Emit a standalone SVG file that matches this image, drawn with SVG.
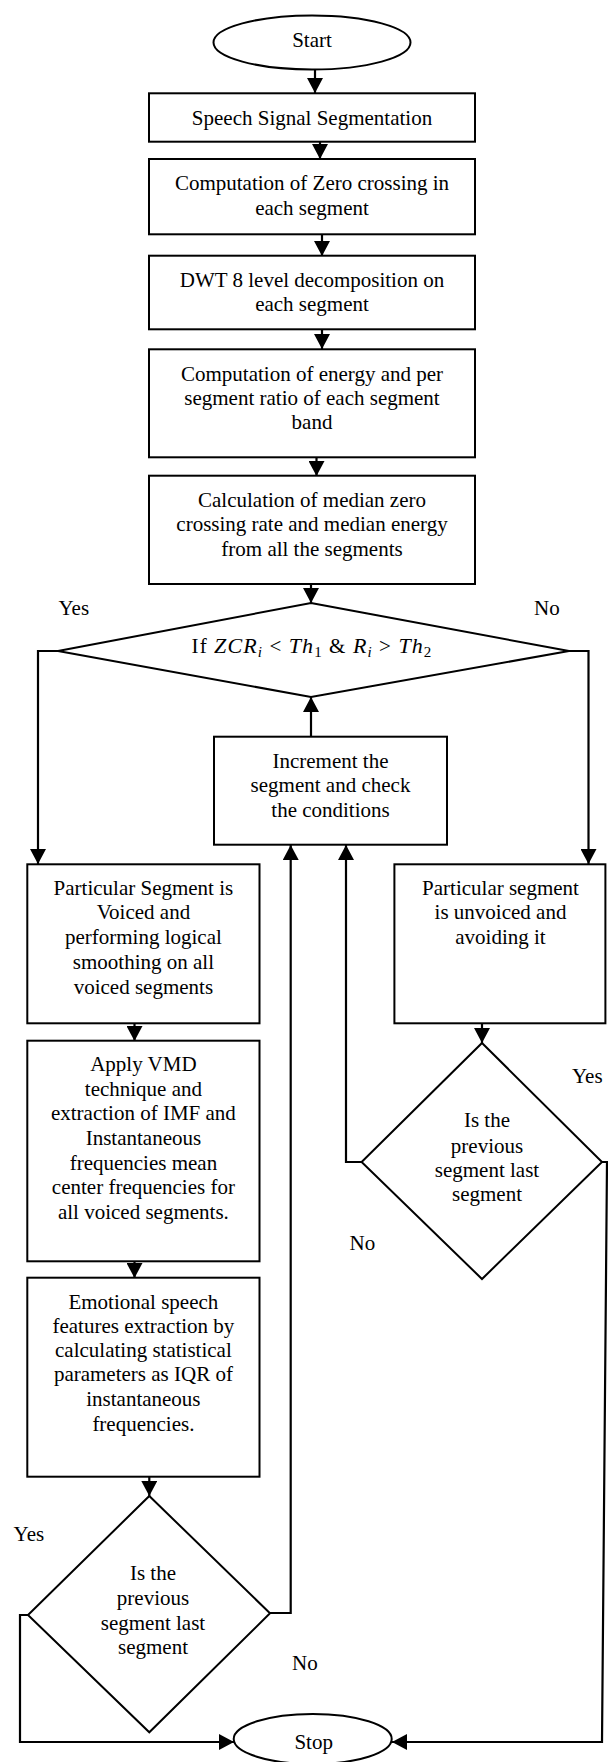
<svg xmlns="http://www.w3.org/2000/svg" width="608" height="1762" viewBox="0 0 608 1762">
<defs>
<style>
.s{fill:#fff;stroke:#000;stroke-width:2}
.t{font-size:21px;fill:#000;text-anchor:middle}
.l{font-size:21px;fill:#000}
.c{fill:none;stroke:#000;stroke-width:2.2}
.m{font-style:italic}
</style>
<marker id="ah" markerUnits="userSpaceOnUse" markerWidth="15" markerHeight="16" refX="15" refY="8" orient="auto" viewBox="0 0 15 16">
<path d="M0,0 L15,8 L0,16 z" fill="#000"/>
</marker>
</defs>
<rect width="608" height="1762" fill="#fff"/>

<g id="connectors">
<path class="c" d="M315,70 V93" marker-end="url(#ah)"/>
<path class="c" d="M320,142 V159" marker-end="url(#ah)"/>
<path class="c" d="M322,234 V256" marker-end="url(#ah)"/>
<path class="c" d="M322,329 V349" marker-end="url(#ah)"/>
<path class="c" d="M316.5,457 V476" marker-end="url(#ah)"/>
<path class="c" d="M311,584 V603" marker-end="url(#ah)"/>
<path class="c" d="M58,651 H38 V864" marker-end="url(#ah)"/>
<path class="c" d="M569,651 H588.5 V864" marker-end="url(#ah)"/>
<path class="c" d="M311,737 V697" marker-end="url(#ah)"/>
<path class="c" d="M134.5,1023 V1041" marker-end="url(#ah)"/>
<path class="c" d="M134.5,1261 V1278" marker-end="url(#ah)"/>
<path class="c" d="M149.3,1477 V1496" marker-end="url(#ah)"/>
<path class="c" d="M482,1023 V1043" marker-end="url(#ah)"/>
<path class="c" d="M361.6,1162 H346 V845" marker-end="url(#ah)"/>
<path class="c" d="M270,1613 H290.7 V845" marker-end="url(#ah)"/>
<path class="c" d="M28,1615 H20 V1742 H234" marker-end="url(#ah)"/>
<path class="c" d="M602,1162 H607 L602,1742 H392" marker-end="url(#ah)"/>
</g>

<g font-family="'Liberation Serif', 'Times New Roman', Times, serif">
<g id="start">
<ellipse class="s" cx="312" cy="42.5" rx="98.5" ry="27"/>
<text class="t" x="312" y="47">Start</text>
</g>
<g id="seg">
<rect class="s" x="149" y="93.3" width="326" height="48.4"/>
<text class="t" x="312" y="125">Speech Signal Segmentation</text>
</g>
<g id="zc">
<rect class="s" x="149" y="159" width="326" height="75.3"/>
<text class="t" x="312" y="190">Computation of Zero crossing in</text>
<text class="t" x="312" y="214.5">each segment</text>
</g>
<g id="dwt">
<rect class="s" x="149" y="255.7" width="326" height="73.6"/>
<text class="t" x="312" y="286.5">DWT 8 level decomposition on</text>
<text class="t" x="312" y="311">each segment</text>
</g>
<g id="energy">
<rect class="s" x="149" y="349.3" width="326" height="108"/>
<text class="t" x="312" y="380.5">Computation of energy and per</text>
<text class="t" x="312" y="404.5">segment ratio of each segment</text>
<text class="t" x="312" y="429">band</text>
</g>
<g id="median">
<rect class="s" x="149" y="475.7" width="326" height="108.3"/>
<text class="t" x="312" y="507">Calculation of median zero</text>
<text class="t" x="312" y="531">crossing rate and median energy</text>
<text class="t" x="312" y="556">from all the segments</text>
</g>
<g id="cond">
<polygon class="s" points="311,603 569,651 311,697 58,651"/>
<text class="t" x="312" y="653.3" letter-spacing="1.1">If <tspan class="m" font-size="22">ZCR</tspan><tspan class="m" font-size="15" dy="4">i</tspan><tspan dy="-4"> &lt; </tspan><tspan class="m" font-size="22">Th</tspan><tspan font-size="15" dy="4">1</tspan><tspan dy="-4"> &amp; </tspan><tspan class="m" font-size="22">R</tspan><tspan class="m" font-size="15" dy="4">i</tspan><tspan dy="-4"> &gt; </tspan><tspan class="m" font-size="22">Th</tspan><tspan font-size="15" dy="4">2</tspan></text>
<text class="l" x="58.5" y="615">Yes</text>
<text class="l" x="534" y="615">No</text>
</g>
<g id="incr">
<rect class="s" x="214" y="736.7" width="233" height="108"/>
<text class="t" x="330.5" y="768">Increment the</text>
<text class="t" x="330.5" y="792">segment and check</text>
<text class="t" x="330.5" y="817">the conditions</text>
</g>
<g id="voiced">
<rect class="s" x="27.3" y="864.3" width="232.2" height="159"/>
<text class="t" x="143.4" y="895">Particular Segment is</text>
<text class="t" x="143.4" y="919">Voiced and</text>
<text class="t" x="143.4" y="944">performing logical</text>
<text class="t" x="143.4" y="968.7">smoothing on all</text>
<text class="t" x="143.4" y="994">voiced segments</text>
</g>
<g id="unvoiced">
<rect class="s" x="394.4" y="864.3" width="211" height="159"/>
<text class="t" x="500.5" y="895">Particular segment</text>
<text class="t" x="500.5" y="919">is unvoiced and</text>
<text class="t" x="500.5" y="944">avoiding it</text>
</g>
<g id="last2">
<polygon class="s" points="482,1043 602,1162 482,1279 361.6,1162"/>
<text class="t" x="487" y="1127">Is the</text>
<text class="t" x="487" y="1152.5">previous</text>
<text class="t" x="487" y="1176.5">segment last</text>
<text class="t" x="487" y="1201">segment</text>
<text class="l" x="572" y="1083">Yes</text>
<text class="l" x="349.6" y="1250">No</text>
</g>
<g id="vmd">
<rect class="s" x="27.3" y="1040.7" width="232.2" height="220.6"/>
<text class="t" x="143.4" y="1071.3">Apply VMD</text>
<text class="t" x="143.4" y="1096">technique and</text>
<text class="t" x="143.4" y="1120.3">extraction of IMF and</text>
<text class="t" x="143.4" y="1145.3">Instantaneous</text>
<text class="t" x="143.4" y="1169.7">frequencies mean</text>
<text class="t" x="143.4" y="1194.3">center frequencies for</text>
<text class="t" x="143.4" y="1219.3">all voiced segments.</text>
</g>
<g id="features">
<rect class="s" x="27.3" y="1277.7" width="232.2" height="199"/>
<text class="t" x="143.4" y="1308.7">Emotional speech</text>
<text class="t" x="143.4" y="1333">features extraction by</text>
<text class="t" x="143.4" y="1357">calculating statistical</text>
<text class="t" x="143.4" y="1381">parameters as IQR of</text>
<text class="t" x="143.4" y="1406.3">instantaneous</text>
<text class="t" x="143.4" y="1431">frequencies.</text>
</g>
<g id="last1">
<polygon class="s" points="149.3,1496 270,1613.3 149.3,1732.3 28,1615"/>
<text class="t" x="153" y="1580">Is the</text>
<text class="t" x="153" y="1605">previous</text>
<text class="t" x="153" y="1630">segment last</text>
<text class="t" x="153" y="1654">segment</text>
<text class="l" x="13.6" y="1541">Yes</text>
<text class="l" x="292" y="1670">No</text>
</g>
<g id="stop">
<ellipse class="s" cx="312.7" cy="1739" rx="79" ry="25"/>
<text class="t" x="313.7" y="1749">Stop</text>
</g>
</g>
</svg>
